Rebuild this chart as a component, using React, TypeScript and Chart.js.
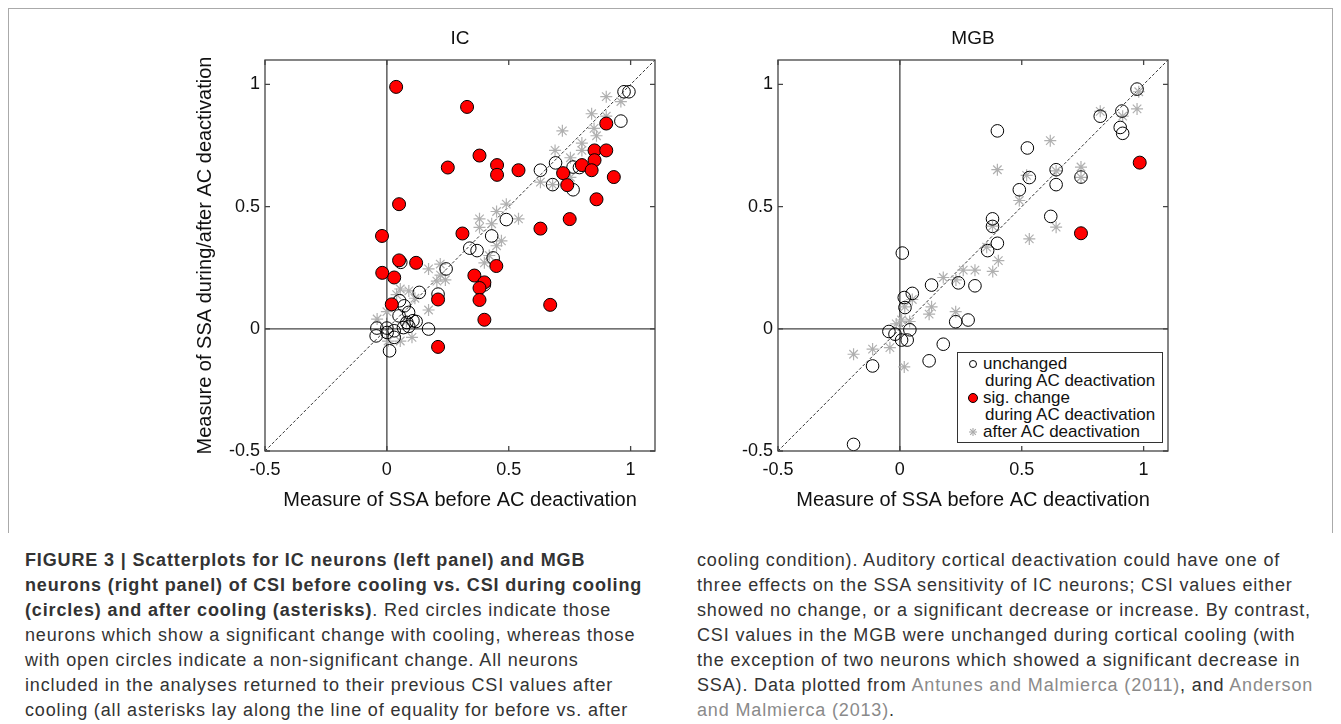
import React, { useEffect, useRef } from "react";
import { Chart, registerables } from "chart.js";

Chart.register(...registerables);

// ---------- data ----------
const axisMin = -0.5;
const axisMax = 1.1;
const tickValues = [-0.5, 0, 0.5, 1];
const tickLabels = ["-0.5", "0", "0.5", "1"];

const icUnchanged: number[][] = [
  [0.973, 0.97], [0.993, 0.97], [0.96, 0.85], [0.692, 0.679], [0.764, 0.662], [0.79, 0.66],
  [0.63, 0.649], [0.68, 0.59], [0.764, 0.569], [0.49, 0.447], [0.43, 0.38], [0.34, 0.33],
  [0.37, 0.32], [0.436, 0.29], [0.4, 0.18], [0.243, 0.245], [0.057, 0.272], [0.133, 0.149],
  [0.21, 0.142], [0.052, 0.115], [0.071, 0.094], [0.089, 0.067], [0.05, 0.053], [0.107, 0.033],
  [0.082, 0.026], [0.068, 0.005], [0.171, -0.001], [-0.041, 0.003], [-0.044, -0.029], [0.0, 0.003],
  [0.001, -0.015], [0.03, -0.008], [0.03, -0.035], [0.011, -0.09], [0.09, 0.01], [0.12, 0.03],
];
const icSig: number[][] = [
  [0.038, 0.99], [0.25, 0.66], [0.05, 0.51], [-0.02, 0.38], [0.31, 0.39], [0.329, 0.908],
  [0.38, 0.709], [0.452, 0.67], [0.452, 0.63], [0.54, 0.649], [0.9, 0.84], [0.852, 0.73],
  [0.9, 0.73], [0.852, 0.69], [0.8, 0.67], [0.84, 0.649], [0.723, 0.637], [0.74, 0.588],
  [0.931, 0.621], [0.86, 0.53], [0.75, 0.449], [0.63, 0.41], [-0.019, 0.229], [0.05, 0.28],
  [0.12, 0.27], [0.03, 0.21], [0.02, 0.1], [0.21, 0.12], [0.21, -0.074], [0.449, 0.257],
  [0.359, 0.218], [0.4, 0.19], [0.38, 0.167], [0.38, 0.118], [0.4, 0.037], [0.67, 0.098],
];
const icAfter: number[][] = [
  [0.9, 0.95], [0.96, 0.93], [0.84, 0.88], [0.9, 0.87], [0.72, 0.81], [0.85, 0.82], [0.86, 0.79],
  [0.8, 0.76], [0.69, 0.73], [0.8, 0.73], [0.753, 0.7], [0.63, 0.6], [0.68, 0.59], [0.753, 0.62],
  [0.49, 0.51], [0.45, 0.48], [0.54, 0.45], [0.38, 0.45], [0.38, 0.415], [0.43, 0.43], [0.45, 0.34],
  [0.171, 0.245], [0.219, 0.265], [0.24, 0.2], [0.22, 0.22], [0.205, 0.195], [0.055, 0.163],
  [0.09, 0.155], [0.04, 0.14], [0.115, 0.125], [0.171, 0.077], [-0.04, 0.04], [0.0, 0.07],
  [0.103, -0.035], [0.055, -0.05], [0.005, -0.05], [0.08, 0.03], [0.42, 0.3], [0.47, 0.36], [0.4, 0.27],
];

const mgbUnchanged: number[][] = [
  [0.01, 0.31], [0.973, 0.981], [0.911, 0.891], [0.822, 0.87], [0.904, 0.824], [0.914, 0.8],
  [0.4, 0.81], [0.523, 0.74], [0.641, 0.651], [0.531, 0.619], [0.743, 0.621], [0.641, 0.59],
  [0.49, 0.569], [0.619, 0.46], [0.38, 0.45], [0.38, 0.419], [0.4, 0.35], [0.36, 0.32],
  [0.24, 0.188], [0.308, 0.176], [0.229, 0.029], [0.28, 0.036], [0.13, 0.179], [0.051, 0.145],
  [0.018, 0.128], [0.021, 0.087], [-0.045, -0.011], [-0.02, -0.022], [0.041, -0.004],
  [0.007, -0.046], [0.03, -0.046], [0.178, -0.063], [0.12, -0.131], [-0.112, -0.152], [-0.19, -0.473],
];
const mgbSig: number[][] = [
  [0.984, 0.68], [0.743, 0.391],
];
const mgbAfter: number[][] = [
  [0.973, 0.9], [0.822, 0.89], [0.914, 0.87], [0.98, 0.97], [0.617, 0.77], [0.4, 0.651],
  [0.52, 0.628], [0.743, 0.662], [0.641, 0.646], [0.743, 0.62], [0.49, 0.525], [0.641, 0.416],
  [0.531, 0.368], [0.38, 0.42], [0.356, 0.334], [0.404, 0.279], [0.381, 0.235], [0.308, 0.24],
  [0.26, 0.24], [0.178, 0.21], [0.23, 0.2], [0.13, 0.09], [0.12, 0.06], [0.229, 0.07],
  [0.051, 0.12], [0.02, 0.09], [0.007, 0.036], [-0.015, 0.02], [0.04, 0.03], [-0.041, -0.077],
  [-0.112, -0.083], [-0.19, -0.104], [0.018, -0.156],
];

const xTitle = "Measure of SSA before AC deactivation";
const yTitle = "Measure of SSA during/after AC deactivation";

// ---------- styling ----------
const FONT = "'Liberation Sans', Arial, Helvetica, sans-serif";
const TEXT = "#111";

const framePlugin = {
  id: "matlabFrame",
  afterDatasetsDraw(chart: any, _args: any, opts: any) {
    const { ctx, chartArea } = chart;
    const { left, right, top, bottom } = chartArea;
    const xs = chart.scales.x;
    const ys = chart.scales.y;
    ctx.save();
    ctx.strokeStyle = "#444";
    ctx.lineWidth = 1.3;
    ctx.strokeRect(left, top, right - left, bottom - top);
    const tl = 5;
    ctx.beginPath();
    tickValues.forEach((v) => {
      const px = xs.getPixelForValue(v);
      ctx.moveTo(px, bottom);
      ctx.lineTo(px, bottom - tl);
      ctx.moveTo(px, top);
      ctx.lineTo(px, top + tl);
      const py = ys.getPixelForValue(v);
      ctx.moveTo(left, py);
      ctx.lineTo(left + tl, py);
      ctx.moveTo(right, py);
      ctx.lineTo(right - tl, py);
    });
    ctx.stroke();
    // panel title, centred over the plot area
    ctx.fillStyle = TEXT;
    ctx.font = `19px ${FONT}`;
    ctx.textAlign = "center";
    ctx.textBaseline = "middle";
    ctx.fillText(opts.text || "", (left + right) / 2, top - 21);
    ctx.restore();
  },
};

type PanelProps = {
  title: string;
  unchanged: number[][];
  sig: number[][];
  after: number[][];
  showYTitle: boolean;
  yAxisWidth: number;
  rightPad: number;
  width: number;
  height: number;
};

function toPts(arr: number[][]) {
  return arr.map(([x, y]) => ({ x, y }));
}

function Panel(props: PanelProps) {
  const ref = useRef<HTMLCanvasElement | null>(null);
  useEffect(() => {
    if (!ref.current) return;
    const diag = [{ x: axisMin, y: axisMin }, { x: axisMax, y: axisMax }];
    const vZero = [{ x: 0, y: axisMin }, { x: 0, y: axisMax }];
    const hZero = [{ x: axisMin, y: 0 }, { x: axisMax, y: 0 }];
    const tickCb = (v: any) => {
      const i = tickValues.findIndex((t) => Math.abs(t - Number(v)) < 1e-9);
      return i >= 0 ? tickLabels[i] : "";
    };
    const setTicks = (axis: any) => {
      axis.ticks = tickValues.map((v) => ({ value: v }));
    };
    const chart = new Chart(ref.current, {
      type: "scatter",
      data: {
        datasets: [
          {
            label: "sig",
            data: toPts(props.sig),
            pointStyle: "circle",
            pointRadius: 6.5,
            backgroundColor: "#ff0000",
            borderColor: "#000",
            borderWidth: 1,
          },
          {
            label: "unchanged",
            data: toPts(props.unchanged),
            pointStyle: "circle",
            pointRadius: 6.3,
            backgroundColor: "rgba(0,0,0,0)",
            borderColor: "#000",
            borderWidth: 1,
          },
          {
            label: "after",
            data: toPts(props.after),
            pointStyle: "star",
            pointRadius: 6,
            backgroundColor: "#b0b0b0",
            borderColor: "#b0b0b0",
            borderWidth: 1.2,
          },
          {
            label: "diag",
            data: diag,
            showLine: true,
            pointRadius: 0,
            borderColor: "#000",
            borderWidth: 0.8,
            borderDash: [3, 2],
          },
          {
            label: "vzero",
            data: vZero,
            showLine: true,
            pointRadius: 0,
            borderColor: "#444",
            borderWidth: 1.3,
          },
          {
            label: "hzero",
            data: hZero,
            showLine: true,
            pointRadius: 0,
            borderColor: "#444",
            borderWidth: 1.3,
          },
        ],
      } as any,
      options: {
        animation: false,
        responsive: false,
        maintainAspectRatio: false,
        layout: { padding: { left: 0, right: props.rightPad, top: 40, bottom: 0 } },
        plugins: {
          legend: { display: false },
          tooltip: { enabled: false },
          title: { display: false },
          matlabFrame: { text: props.title },
        },
        scales: {
          x: {
            type: "linear",
            min: axisMin,
            max: axisMax,
            afterBuildTicks: setTicks,
            afterFit: (s: any) => {
              s.height = 69;
            },
            grid: { display: false, drawTicks: false },
            border: { display: false },
            ticks: {
              callback: tickCb,
              color: TEXT,
              font: { family: FONT, size: 18 },
              padding: 8,
              maxRotation: 0,
              autoSkip: false,
            },
            title: {
              display: true,
              text: xTitle,
              color: TEXT,
              font: { family: FONT, size: 20 },
              padding: { top: 0, bottom: 8 },
            },
          },
          y: {
            type: "linear",
            min: axisMin,
            max: axisMax,
            afterBuildTicks: setTicks,
            afterFit: (s: any) => {
              s.width = props.yAxisWidth;
            },
            grid: { display: false, drawTicks: false },
            border: { display: false },
            ticks: {
              callback: tickCb,
              color: TEXT,
              font: { family: FONT, size: 18 },
              padding: 5,
              autoSkip: false,
            },
            title: {
              display: props.showYTitle,
              text: yTitle,
              color: TEXT,
              font: { family: FONT, size: 20 },
              padding: { top: 43, bottom: 0 },
            },
          },
        },
      } as any,
      plugins: [framePlugin],
    });
    return () => chart.destroy();
  }, []);
  return (
    <canvas
      ref={ref}
      width={props.width}
      height={props.height}
      style={{ display: "block", width: props.width, height: props.height }}
    />
  );
}

function Asterisk({ size, color }: { size: number; color: string }) {
  const r = size / 2;
  const d = r * 0.7071;
  return (
    <svg width={size + 2} height={size + 2} style={{ display: "block" }}>
      <g transform={`translate(${r + 1},${r + 1})`} stroke={color} strokeWidth={1.1}>
        <line x1={-r} y1={0} x2={r} y2={0} />
        <line x1={0} y1={-r} x2={0} y2={r} />
        <line x1={-d} y1={-d} x2={d} y2={d} />
        <line x1={-d} y1={d} x2={d} y2={-d} />
      </g>
    </svg>
  );
}

function Legend() {
  const rowH = 17;
  const top0 = 2;
  const textStyle: React.CSSProperties = {
    position: "absolute",
    fontFamily: FONT,
    fontSize: 17,
    color: TEXT,
    lineHeight: `${rowH}px`,
    whiteSpace: "nowrap",
  };
  const rows = [
    { y: top0, x: 25, text: "unchanged" },
    { y: top0 + rowH, x: 27, text: "during AC deactivation" },
    { y: top0 + 2 * rowH, x: 25, text: "sig. change" },
    { y: top0 + 3 * rowH, x: 27, text: "during AC deactivation" },
    { y: top0 + 4 * rowH, x: 25, text: "after AC deactivation" },
  ];
  return (
    <div
      style={{
        position: "absolute",
        left: 957,
        top: 352,
        width: 206,
        height: 91,
        border: "1px solid #333",
        background: "#fff",
        boxSizing: "border-box",
      }}
    >
      {rows.map((r, i) => (
        <div key={i} style={{ ...textStyle, left: r.x, top: r.y }}>
          {r.text}
        </div>
      ))}
      <div
        style={{
          position: "absolute",
          left: 11,
          top: top0 + rowH / 2 - 4,
          width: 8,
          height: 8,
          borderRadius: "50%",
          border: "1px solid #000",
          boxSizing: "border-box",
        }}
      />
      <div
        style={{
          position: "absolute",
          left: 10,
          top: top0 + 2.5 * rowH - 5,
          width: 10,
          height: 10,
          borderRadius: "50%",
          border: "1px solid #000",
          background: "#ff0000",
          boxSizing: "border-box",
        }}
      />
      <div style={{ position: "absolute", left: 10, top: top0 + 4.5 * rowH - 5 }}>
        <Asterisk size={8} color="#aaa" />
      </div>
    </div>
  );
}

const captionLeft: React.ReactNode[] = [
  <b key="a">FIGURE 3 | Scatterplots for IC neurons (left panel) and MGB</b>,
  <b key="b">neurons (right panel) of CSI before cooling vs. CSI during cooling</b>,
  <span key="c">
    <b>(circles) and after cooling (asterisks)</b>. Red circles indicate those
  </span>,
  "neurons which show a significant change with cooling, whereas those",
  "with open circles indicate a non-significant change. All neurons",
  "included in the analyses returned to their previous CSI values after",
  "cooling (all asterisks lay along the line of equality for before vs. after",
];

const cite = { color: "#8a8a8a" };
const captionRight: React.ReactNode[] = [
  "cooling condition). Auditory cortical deactivation could have one of",
  "three effects on the SSA sensitivity of IC neurons; CSI values either",
  "showed no change, or a significant decrease or increase. By contrast,",
  "CSI values in the MGB were unchanged during cortical cooling (with",
  "the exception of two neurons which showed a significant decrease in",
  <span key="f">
    SSA). Data plotted from <span style={cite}>Antunes and Malmierca (2011)</span>, and{" "}
    <span style={cite}>Anderson</span>
  </span>,
  <span key="g">
    <span style={cite}>and Malmierca (2013)</span>.
  </span>,
];

function Caption({ lines, left }: { lines: React.ReactNode[]; left: number }) {
  return (
    <>
      {lines.map((l, i) => (
        <div
          key={i}
          style={{
            position: "absolute",
            left,
            top: 560 + i * 25 - 12,
            height: 24,
            lineHeight: "24px",
            fontFamily: FONT,
            fontSize: 18,
            letterSpacing: "0.85px",
            color: "#333",
            whiteSpace: "nowrap",
          }}
        >
          {l}
        </div>
      ))}
    </>
  );
}

export default function App() {
  return (
    <div
      style={{
        position: "absolute",
        left: 0,
        top: 0,
        width: 1341,
        height: 724,
        background: "#fff",
        overflow: "hidden",
      }}
    >
      <div
        style={{
          position: "absolute",
          left: 8,
          top: 8,
          width: 1325,
          height: 525,
          borderTop: "1px solid #aaa",
          borderLeft: "1px solid #aaa",
          borderRight: "1px solid #aaa",
          boxSizing: "border-box",
        }}
      />
      <div style={{ position: "absolute", left: 150, top: 20 }}>
        <Panel
          title="IC"
          unchanged={icUnchanged}
          sig={icSig}
          after={icAfter}
          showYTitle={true}
          yAxisWidth={115}
          rightPad={15}
          width={520}
          height={500}
        />
      </div>
      <div style={{ position: "absolute", left: 700, top: 20 }}>
        <Panel
          title="MGB"
          unchanged={mgbUnchanged}
          sig={mgbSig}
          after={mgbAfter}
          showYTitle={false}
          yAxisWidth={78}
          rightPad={12}
          width={480}
          height={500}
        />
      </div>
      <Legend />
      <Caption lines={captionLeft} left={25} />
      <Caption lines={captionRight} left={697} />
    </div>
  );
}
